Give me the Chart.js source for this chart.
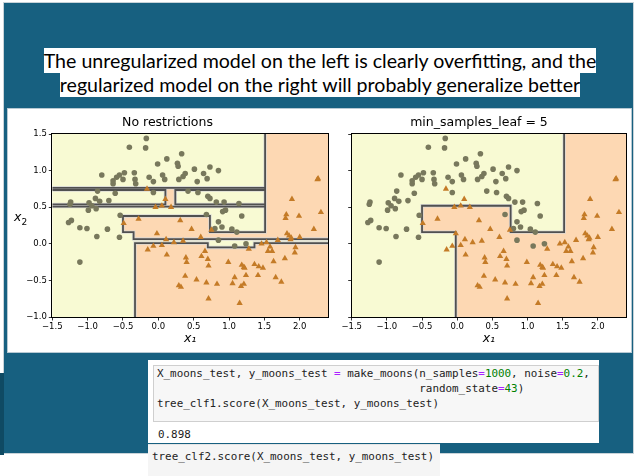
<!DOCTYPE html>
<html>
<head>
<meta charset="utf-8">
<script src="https://cdn.jsdelivr.net/npm/chart.js@4.4.0/dist/chart.umd.min.js"></script>
<style>
  body { margin: 0; width: 637px; height: 476px; overflow: hidden; background: #fff; position: relative; font-family: "DejaVu Sans", sans-serif; }
  #slide { position: absolute; left: 3px; top: 2px; width: 631px; height: 452px; background: #176080; border: 1px solid #c8d3d9; box-sizing: border-box; }
  #edge { position: absolute; left: 0; top: 373px; width: 4px; height: 82px; background: #0f4a63; }
  #headline { position: absolute; left: 3px; top: 49px; width: 634px; text-align: center; font-family: Lato, sans-serif; font-size: 19.6px; line-height: 24px; color: #000; }
  #headline span { background: #fff; padding: 1px 0; -webkit-box-decoration-break: clone; box-decoration-break: clone; }
  #panel { position: absolute; left: 7px; top: 108px; width: 625px; height: 245px; background: #fff; border: 1px solid #b7c9d3; box-sizing: border-box; }
  canvas { position: absolute; }
  #yl { position: absolute; left: 14px; top: 209px; font: italic 12.5px "DejaVu Sans"; color: #000; }
  .mono { font-family: "DejaVu Sans Mono", monospace; font-size: 10.9px; line-height: 15px; color: #222; white-space: pre; margin: 0; }
  #cell1 { position: absolute; left: 148px; top: 360px; width: 451px; height: 83px; background: #fff; }
  #in1 { position: absolute; left: 5px; top: 5px; width: 446px; height: 57px; background: #f7f7f7; border: 1px solid #cfcfcf; box-sizing: border-box; }
  #in1 pre { position: absolute; left: 3px; top: 0px; }
  #out1 { position: absolute; left: 10px; top: 67px; }
  #cell2 { position: absolute; left: 148px; top: 444px; width: 292px; height: 32px; background: #f5f5f5; border-top: 1px solid #e6e6e6; }
  #cell2 pre { position: absolute; left: 4px; top: 4px; }
  .op { color: #aa22ff; }
  .num { color: #008000; }
</style>
</head>
<body>
<div id="slide"></div>
<div id="edge"></div>
<div id="headline"><span>The unregularized model on the left is clearly overfitting, and the<br>regularized model on the right will probably generalize better</span></div>
<div id="panel"></div>
<canvas id="left" width="325" height="245" style="left:7px; top:108px;"></canvas>
<canvas id="right" width="298" height="245" style="left:332px; top:108px;"></canvas>
<div id="yl">x<sub style="font-size:9px; font-style:normal;">2</sub></div>
<div id="cell1">
  <div id="in1"><pre class="mono">X_moons_test, y_moons_test <span class="op">=</span> make_moons(n_samples<span class="op">=</span><span class="num">1000</span>, noise<span class="op">=</span><span class="num">0.2</span>,
                                        random_state<span class="op">=</span><span class="num">43</span>)
tree_clf1.score(X_moons_test, y_moons_test)</pre></div>
  <pre id="out1" class="mono">0.898</pre>
</div>
<div id="cell2"><pre class="mono">tree_clf2.score(X_moons_test, y_moons_test)</pre></div>

<script>
// axes
const xTicks = [-1.5, -1.0, -0.5, 0.0, 0.5, 1.0, 1.5, 2.0];
const yTicks = [-1.0, -0.5, 0.0, 0.5, 1.0, 1.5];
const xRange = [-1.5, 2.4];
const yRange = [-1.0, 1.5];

// training points, class 0 (circles)
const class0 = [
  [-0.17,1.44],[-0.18,1.31],[-0.41,1.32],[0.33,1.23],[0.12,1.16],[-0.01,1.09],[0.27,1.10],[0.28,1.06],
  [0.51,1.02],[0.73,1.05],[0.85,1.00],[0.64,0.96],[0.38,0.96],[0.35,0.92],[0.29,0.88],[0.09,0.88],
  [0.06,0.94],[-0.13,0.91],[-0.07,0.85],[-0.34,0.97],[-0.33,0.88],[-0.32,0.82],[-0.48,0.97],[-0.50,0.88],
  [-0.55,0.94],[-0.59,0.91],[-0.64,0.86],[-0.64,0.82],[-0.61,0.69],[-0.80,0.94],[-0.86,0.72],[-0.89,0.62],
  [-0.83,0.58],[-0.98,0.56],[-0.94,0.52],[-0.88,0.48],[-0.99,0.46],[-0.70,0.59],[-0.72,0.20],[-0.87,0.10],
  [-1.01,0.21],[-1.11,0.22],[-1.23,0.32],[-1.27,0.29],[-1.24,0.57],[-1.25,0.54],[-1.11,-0.25],[-0.54,0.39],
  [-0.55,0.09],[-0.07,0.70],[0.42,0.72],[0.56,0.70],[0.55,0.85],[0.69,0.89],[0.70,0.65],[0.73,0.62],
  [0.82,0.57],[0.93,0.57],[1.14,0.55],[0.95,0.46],[0.91,0.44],[1.18,0.38],[0.68,0.40],[0.85,0.30],
  [0.90,0.23],[0.80,0.21],[1.04,0.20],[1.11,0.16],[0.85,0.05],[1.08,-0.03],[1.24,0.00]
];

// training points, class 1 (triangles)
const class1 = [
  [-0.16,0.75],[0.10,0.61],[-0.04,0.50],[0.05,0.52],[0.18,0.50],[-0.28,0.34],[-0.49,0.28],[0.31,0.32],
  [0.47,0.20],[0.75,0.19],[0.60,0.09],[-0.02,0.14],[0.11,0.06],[0.22,0.02],[0.35,0.04],[-0.07,-0.03],
  [0.05,-0.02],[-0.15,-0.08],[0.12,-0.15],[0.39,-0.19],[0.40,-0.25],[0.61,-0.17],[0.66,-0.10],[0.70,-0.21],
  [0.71,-0.30],[0.38,-0.44],[0.54,-0.49],[0.29,-0.57],[0.32,-0.59],[0.68,-0.53],[0.83,-0.55],[0.71,-0.75],
  [0.99,-0.25],[1.05,-0.54],[1.08,-0.46],[1.18,-0.29],[1.21,-0.32],[1.22,-0.33],[1.24,-0.43],[1.21,-0.55],
  [1.17,-0.58],[1.15,-0.81],[1.36,-0.28],[1.42,-0.31],[1.48,-0.33],[1.41,-0.43],[1.28,-0.07],[1.46,0.00],
  [1.53,0.02],[1.58,-0.04],[1.55,-0.10],[1.61,-0.10],[1.63,-0.24],[1.66,-0.46],[1.74,-0.52],[1.79,-0.20],
  [1.93,-0.12],[1.94,-0.05],[1.69,0.05],[1.82,0.14],[1.85,0.11],[1.88,0.08],[1.87,0.06],[2.00,0.09],
  [1.81,0.40],[1.80,0.35],[1.89,0.61],[1.99,0.38],[2.20,0.20],[2.30,0.43],[2.25,0.88],[2.26,0.89]
];

// class-1 regions of the unrestricted tree
const leftRegions = [
  [[1.51,1.5],[2.4,1.5],[2.4,0.065],[-0.35,0.065],[-0.35,0.16],[-0.50,0.16],[-0.50,0.38],[0.73,0.38],[0.73,0.16],[1.51,0.16]],
  [[-0.33,-1],[-0.33,0.01],[0.70,0.01],[0.70,-0.05],[1.36,-0.05],[1.36,0.01],[2.4,0.01],[2.4,-1]],
  [[-1.5,0.735],[1.51,0.735],[1.51,0.765],[-1.5,0.765]],
  [[-1.5,0.508],[1.51,0.508],[1.51,0.538],[-1.5,0.538]],
  [[0.10,0.538],[0.24,0.538],[0.24,0.735],[0.10,0.735]]
];
const leftBoundaries = [
  [[1.51,1.5],[1.51,0.16],[0.73,0.16],[0.73,0.38],[-0.50,0.38],[-0.50,0.16],[-0.35,0.16],[-0.35,0.065],[2.4,0.065]],
  [[-0.33,-1],[-0.33,0.01],[0.70,0.01],[0.70,-0.05],[1.36,-0.05],[1.36,0.01],[2.4,0.01]],
  [[-1.5,0.765],[1.51,0.765]],
  [[-1.5,0.735],[0.10,0.735],[0.10,0.538],[-1.5,0.538]],
  [[1.51,0.735],[0.24,0.735],[0.24,0.538],[1.51,0.538]],
  [[-1.5,0.508],[1.51,0.508]]
];

// class-1 region with min_samples_leaf = 5
const rightRegions = [
  [[1.52,1.5],[2.4,1.5],[2.4,-1],[-0.02,-1],[-0.02,0.16],[-0.50,0.16],[-0.50,0.52],[0.76,0.52],[0.76,0.16],[1.52,0.16]]
];
const rightBoundaries = [
  [[1.52,1.5],[1.52,0.16],[0.76,0.16],[0.76,0.52],[-0.50,0.52],[-0.50,0.16],[-0.02,0.16],[-0.02,-1]]
];

const yellow = "#f8fad3";
const orange = "#fdd8b3";

function pts(arr) {
  return arr.map(p => ({ x: p[0], y: p[1] }));
}
function fmt(v) {
  return v.toFixed(1).replace("-", "\u2212");
}

var backPlugin = {
  id: "back",
  beforeDraw(chart) {
    var a = chart.chartArea, ctx = chart.ctx;
    ctx.save();
    ctx.fillStyle = yellow;
    ctx.fillRect(a.left, a.top, a.right - a.left, a.bottom - a.top);
    ctx.restore();
  }
};
var framePlugin = {
  id: "frame",
  afterDraw(chart) {
    var a = chart.chartArea, ctx = chart.ctx;
    ctx.save();
    ctx.strokeStyle = "#000";
    ctx.lineWidth = 1;
    ctx.strokeRect(Math.round(a.left) - 0.5, Math.round(a.top) - 0.5, Math.round(a.right - a.left) + 1, Math.round(a.bottom - a.top) + 1);
    ctx.restore();
  }
};

function makeChart(id, title, regions, boundaries, yWidth, showYLabels) {
  var datasets = [];
  regions.forEach(function (r) {
    datasets.push({ data: pts(r), showLine: true, fill: "shape", backgroundColor: orange,
      borderWidth: 0, pointRadius: 0, pointHoverRadius: 0, order: 5, clip: 0 });
  });
  boundaries.forEach(function (b) {
    datasets.push({ data: pts(b), showLine: true, fill: false, borderColor: "rgba(215,215,215,0.85)",
      borderWidth: 3.4, pointRadius: 0, pointHoverRadius: 0, order: 4, clip: 0 });
    datasets.push({ data: pts(b), showLine: true, fill: false, borderColor: "#505050",
      borderWidth: 1.8, pointRadius: 0, pointHoverRadius: 0, order: 3, clip: 0 });
  });
  datasets.push({ data: pts(class0), pointStyle: "circle", pointRadius: 2.8, pointBackgroundColor: "#78785c",
    pointBorderWidth: 0, order: 1 });
  datasets.push({ data: pts(class1), pointStyle: "triangle", pointRadius: 3.6, pointBackgroundColor: "#c47b27",
    pointBorderWidth: 0, order: 0 });

  return new Chart(document.getElementById(id), {
    type: "scatter",
    data: { datasets: datasets },
    plugins: [backPlugin, framePlugin],
    options: {
      responsive: false,
      animation: false,
      events: [],
      layout: { padding: { left: 0, right: 4, top: 0, bottom: 0 } },
      plugins: {
        legend: { display: false },
        tooltip: { enabled: false },
        title: {
          display: true, text: title, color: "#000",
          font: { family: "DejaVu Sans", size: 12.5, weight: "normal" },
          padding: { top: 7.5, bottom: 3.5 }
        }
      },
      scales: {
        x: {
          type: "linear", min: xRange[0], max: xRange[1],
          afterBuildTicks: s => { s.ticks = xTicks.map(v => ({ value: v })); },
          afterFit: s => { s.height = 36; },
          ticks: { callback: v => fmt(v), color: "#000", padding: 1.5, maxRotation: 0, autoSkip: false,
            font: { family: "DejaVu Sans", size: 8.5 } },
          grid: { display: true, drawOnChartArea: false, drawTicks: true, tickLength: 3.5, tickColor: "#000", tickWidth: 0.8 },
          border: { display: false },
          title: { display: true, text: "x\u2081", color: "#000", padding: { top: 0, bottom: 6.5 },
            font: { family: "DejaVu Sans", size: 12.5, style: "italic" } }
        },
        y: {
          type: "linear", min: yRange[0], max: yRange[1],
          afterBuildTicks: s => { s.ticks = yTicks.map(v => ({ value: v })); },
          afterFit: s => { s.width = yWidth; },
          ticks: { display: showYLabels, callback: v => fmt(v), color: "#000", padding: 2, autoSkip: false,
            font: { family: "DejaVu Sans", size: 8.5 } },
          grid: { display: true, drawOnChartArea: false, drawTicks: true, tickLength: 3.5, tickColor: "#000", tickWidth: 0.8 },
          border: { display: false }
        }
      }
    }
  });
}

makeChart("left", "No restrictions", leftRegions, leftBoundaries, 45.3, true);
makeChart("right", "min_samples_leaf = 5", rightRegions, rightBoundaries, 19.7, false);
</script>
</body>
</html>
